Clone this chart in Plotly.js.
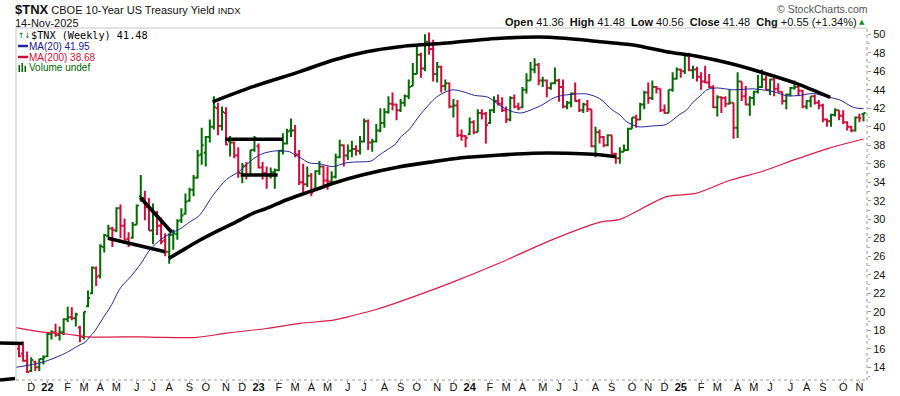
<!DOCTYPE html>
<html>
<head>
<meta charset="utf-8">
<script src="https://cdn.plot.ly/plotly-3.0.1.min.js"></script>
<style>
html,body{margin:0;padding:0;background:#fff;overflow:hidden}
#chart{width:900px;height:396px}
</style>
</head>
<body>
<div id="chart"></div>
<script>
// ---- weekly bars: week 0 = week ending 2021-11-19 ----
const firstWeekUTC = [2021, 10, 19];
const closeBeforeFirst = 15.7;

const opens = [
16.0,15.5,14.7,13.6,14.6,14.0,14.9,15.2,17.6,17.8,
17.5,17.8,19.2,19.4,19.3,18.3,17.3,20.6,22.0,24.7,
23.9,27.0,28.2,29.0,28.8,31.2,29.3,27.9,28.0,29.4,
32.5,32.3,31.3,28.8,30.6,29.3,27.7,26.5,28.3,28.4,
29.9,30.6,32.0,33.2,34.5,37.0,37.2,38.9,40.0,42.0,
40.1,41.5,38.4,38.3,36.9,35.0,35.8,34.8,37.5,37.9,
35.6,35.0,34.8,35.1,35.3,37.4,38.2,39.6,39.6,37.0,
34.0,33.8,34.7,33.3,35.2,35.7,34.2,34.1,34.6,36.7,
38.0,36.9,37.4,37.6,37.4,38.4,40.6,38.3,38.4,39.6,
40.4,41.6,42.5,42.4,41.8,42.6,43.3,44.4,45.7,47.8,
46.3,49.2,48.4,45.7,46.5,44.4,44.7,42.2,42.3,39.1,
39.0,39.2,40.5,39.4,41.5,41.4,40.4,41.8,42.8,42.5,
41.8,40.8,43.1,42.2,42.1,44.0,45.0,46.2,46.7,45.0,
45.0,44.2,44.7,45.0,44.3,42.2,42.6,43.6,42.8,41.8,
42.4,41.9,37.9,39.4,38.9,38.0,39.1,37.1,36.6,37.3,
37.5,39.8,41.0,40.8,42.4,43.7,43.1,44.3,44.1,41.8,
41.5,44.0,45.2,46.2,46.0,47.7,46.1,46.2,45.4,44.9,
44.8,44.3,42.1,43.2,43.1,42.5,42.6,39.9,44.9,43.3,
42.4,43.1,43.8,44.3,45.1,44.0,45.1,44.1,43.8,42.8,
43.5,44.2,44.3,43.9,42.2,42.8,43.3,42.6,42.3,40.8,
40.6,41.3,41.8,41.2,40.5,40.0,39.6,41.0,41.36];

const highs = [
16.7,16.8,15.7,15.1,14.7,14.9,15.3,17.7,18.0,18.7,
18.4,19.3,20.55,20.5,19.9,18.5,20.0,22.3,24.9,24.9,
27.3,28.4,29.4,29.2,31.3,31.6,30.1,28.6,29.7,31.6,
34.8,33.1,32.3,31.7,30.9,30.2,28.5,28.5,28.9,30.0,
31.2,32.8,33.4,34.8,37.5,39.9,39.0,40.8,43.3,42.6,
42.2,42.1,39.0,38.4,37.8,36.1,36.2,37.5,39.0,38.2,
36.2,35.7,35.6,35.5,37.5,39.3,39.8,40.9,40.2,37.5,
36.0,35.7,35.0,35.3,36.3,35.8,35.7,35.2,37.1,38.6,
38.1,38.1,38.5,38.0,39.0,40.9,40.8,38.7,40.3,42.0,
42.0,43.3,43.7,42.5,43.0,43.5,45.1,46.9,48.9,48.0,
50.0,50.2,49.4,47.0,46.6,45.1,44.8,43.0,42.9,39.7,
39.1,41.0,40.7,41.9,41.9,41.6,41.9,43.3,43.5,43.2,
42.2,43.3,43.5,42.6,44.3,45.8,47.0,47.4,46.9,45.4,
45.1,44.8,46.4,45.2,45.1,42.8,43.7,44.8,43.0,42.6,
42.9,41.9,40.0,39.7,39.0,39.2,39.1,37.2,37.8,38.1,
39.9,41.0,41.3,42.6,43.9,44.8,45.0,44.4,44.1,42.4,
44.0,45.9,46.4,46.3,47.9,48.0,46.6,46.5,45.9,46.6,
45.7,44.5,43.4,43.3,43.3,44.0,42.6,45.9,44.9,44.4,
43.3,43.9,45.6,46.2,45.5,45.2,45.3,44.7,43.8,43.6,
44.3,45.0,44.5,44.0,42.9,43.3,43.5,42.9,42.5,40.9,
41.4,42.0,41.8,41.8,40.6,40.1,41.1,41.4,41.48];

const lows = [
15.1,14.6,13.4,13.5,13.6,13.6,14.3,15.1,17.0,17.3,
16.9,17.5,18.9,19.1,18.4,16.7,17.0,20.5,21.9,22.8,
23.6,26.4,28.0,27.0,28.6,27.95,27.8,27.0,27.9,29.4,
31.9,29.9,28.8,27.3,28.3,27.3,26.0,25.2,26.7,27.8,
29.6,30.5,31.9,32.5,34.4,35.9,35.7,38.3,39.7,39.1,
39.6,38.0,36.8,36.6,34.5,33.9,34.3,34.7,37.3,35.5,
34.3,33.3,34.4,33.3,35.2,37.0,38.1,38.9,36.7,33.7,
32.9,33.5,32.5,33.1,34.8,33.7,33.2,33.7,34.4,36.6,
35.7,36.4,36.7,36.9,37.0,38.3,37.5,37.3,38.3,39.4,
39.9,41.4,41.8,40.7,41.6,42.2,43.0,44.4,45.7,45.3,
46.0,47.8,44.9,44.8,43.7,43.9,42.0,41.0,38.9,38.5,
37.8,39.1,39.2,39.4,40.8,38.2,40.3,41.5,42.3,41.6,
40.4,40.6,42.0,41.8,42.0,43.6,45.0,45.8,44.5,44.3,
43.2,44.0,44.6,42.7,42.0,41.9,42.1,42.7,41.6,41.5,
41.6,37.8,36.7,38.2,37.8,37.9,37.0,36.0,36.0,37.3,
37.4,39.8,39.9,40.7,41.9,42.5,42.9,43.6,41.6,41.4,
41.5,43.8,45.1,45.3,45.7,46.0,45.2,44.9,44.0,44.7,
44.2,42.0,41.1,41.5,42.1,42.4,38.7,38.8,42.8,42.3,
41.2,42.3,43.6,44.2,44.0,43.4,43.3,43.7,42.4,41.9,
43.3,44.0,43.3,42.0,41.9,42.1,42.4,41.9,40.5,40.0,
40.0,41.1,40.7,40.3,39.6,39.4,39.5,40.5,40.56];

const closes = [
15.2,14.7,13.5,14.8,14.0,14.9,15.1,17.6,17.8,17.5,
17.8,19.2,19.4,19.3,19.7,17.3,20.0,21.5,24.8,23.8,
27.1,28.3,29.0,28.85,31.2,29.3,27.8,27.4,29.4,31.5,
32.3,31.3,28.8,30.8,29.3,27.6,26.5,28.3,28.5,29.8,
30.4,31.9,33.2,34.5,36.9,38.0,38.9,40.0,42.1,40.1,
41.6,38.1,38.3,36.9,35.0,35.8,34.8,37.5,38.8,35.6,
35.0,34.8,35.1,35.3,37.4,38.2,39.5,39.6,37.0,34.0,
33.8,34.7,32.9,35.2,35.7,34.2,34.1,34.6,36.7,38.0,
36.9,37.4,37.6,37.4,38.4,40.6,38.3,38.4,39.6,40.4,
41.6,42.5,42.4,41.8,42.6,43.3,44.3,45.7,47.8,46.3,
49.2,48.4,45.7,46.5,44.4,44.7,42.2,42.3,39.1,39.0,
38.8,40.5,39.4,41.5,41.4,40.2,41.8,42.8,42.5,41.8,
40.8,43.1,42.2,42.0,44.0,45.0,46.2,46.7,45.0,45.0,
44.2,44.7,45.0,44.3,42.2,42.6,43.6,42.8,41.8,42.4,
41.9,37.9,39.4,38.9,38.0,39.1,37.1,36.6,37.3,37.5,
39.8,41.0,40.8,42.4,43.7,43.1,44.3,44.1,41.8,41.5,
44.0,45.2,46.2,46.0,47.7,46.1,46.2,45.4,44.9,44.8,
44.3,42.1,43.2,43.1,42.5,42.6,39.9,44.9,43.3,42.4,
43.1,43.8,44.3,45.1,44.0,45.1,44.1,43.8,42.8,43.5,
44.2,44.3,43.9,42.2,42.8,43.3,42.6,42.3,40.8,40.6,
41.3,41.8,41.2,40.5,40.0,39.6,41.0,40.93,41.48];

// ---- moving averages (week index, value) ----
const ma20Week = [-0.8,5.8,11.3,15.1,16.3,17.6,18.3,20.1,20.8,22.6,25,27.5,30,32.4,34.9,37.4,39.8,42,44.4,47.8,51.1,54.3,57.6,60,63.3,66.6,68.2,69.2,71.5,74,77.3,80.5,83,86.7,88.9,92.9,93.8,96.1,98.8,102.8,105.2,106.9,109.3,112.2,115.5,118.8,121.8,123.8,126.5,129,131.6,134,139.8,143,146.2,148,149.5,152.5,156.1,159.4,162.6,164.4,165.9,168.2,169.4,171.8,175.9,180.8,185.8,189.1,192.4,195.6,198.9,202.2,205.5,208];
const ma20Val  = [14.0,14.55,15.5,16.45,16.7,17.4,17.7,18.9,19.4,20.6,22.6,23.8,25.2,26.8,27.8,28.5,29.0,29.7,30.4,32.6,34.3,35.2,36.5,37.1,37.4,37.3,36.9,36.7,36.1,36.0,35.7,36.1,36.2,36.3,37.0,38.2,38.8,39.7,41.3,43.2,43.8,44.0,43.8,43.4,43.2,42.2,41.6,41.5,41.9,42.4,43.1,43.4,43.55,43.05,41.8,41.3,40.6,40.0,40.1,40.25,41.3,41.8,42.6,43.5,44.0,44.2,44.0,44.1,43.8,43.35,43.4,43.6,43.25,42.9,42.1,41.95];

const ma200Week = [-0.8,6,11.7,16.7,29.8,34.7,43.8,51.2,61,69.2,77.4,82.3,88,93.8,106.2,118.5,130.8,143.1,148,159.5,166.7,175,183.2,191.4,199.6,208];
const ma200Val  = [18.3,17.8,17.6,17.3,17.3,17.24,17.24,17.7,18.2,18.75,19.1,19.6,20.25,21.1,23.1,25.3,27.7,29.7,30.0,32.45,32.8,34.2,35.2,36.5,37.7,38.68];

// ---- hand-drawn trendlines (week index, value) ----
const upperArcWeek = [47.7,57.6,69.2,77.3,85.6,93.8,106.2,118.5,130.8,143.1,151.3,159.5,166.7,175.0,183.2,191.4,199.8];
const upperArcVal  = [42.7,44.34,45.96,47.2,48.12,48.66,49.09,49.57,49.68,49.2,48.84,48.12,47.65,46.86,45.85,44.7,43.19];
const lowerArcWeek = [36.9,41.1,44.6,49.3,52.8,57.6,61.0,65.8,69.2,74.0,77.4,84.5,93.8,102.0,110.3,118.5,126.6,134.9,141.3,147.0];
const lowerArcVal  = [25.78,26.86,27.76,28.84,29.57,30.65,31.19,32.09,32.63,33.35,33.9,34.79,35.69,36.23,36.7,36.95,37.14,37.14,37.03,36.77];
const segAWeek = [21.9,36.0], segAVal = [27.95,26.5];
const segBWeek = [29.9,37.6], segBVal = [32.36,28.6];
const hTopWeek = [50.8,64.95], hTopVal = [38.65,38.65];
const hBotWeek = [54.6,63.7],  hBotVal = [34.79,34.79];

// ---- axis labels ----
const monthTickDates = ['2021-12-10','2022-01-07','2022-02-11','2022-03-11','2022-04-08','2022-05-06','2022-06-10','2022-07-08','2022-08-05','2022-09-09','2022-10-07','2022-11-11','2022-12-09','2023-01-06','2023-02-10','2023-03-10','2023-04-07','2023-05-05','2023-06-09','2023-07-07','2023-08-11','2023-09-08','2023-10-06','2023-11-10','2023-12-08','2024-01-05','2024-02-09','2024-03-08','2024-04-05','2024-05-10','2024-06-07','2024-07-05','2024-08-09','2024-09-06','2024-10-11','2024-11-08','2024-12-06','2025-01-03','2025-02-07','2025-03-07','2025-04-11','2025-05-09','2025-06-06','2025-07-11','2025-08-08','2025-09-05','2025-10-10','2025-11-07'];
const monthTickText = ['D','<b>22</b>','F','M','A','M','J','J','A','S','O','N','D','<b>23</b>','F','M','A','M','J','J','A','S','O','N','D','<b>24</b>','F','M','A','M','J','J','A','S','O','N','D','<b>25</b>','F','M','A','M','J','J','A','S','O','N'];
const yTickVals = [14,16,18,20,22,24,26,28,30,32,34,36,38,40,42,44,46,48,50];

// ---- helpers ----
const START_MS = Date.UTC(firstWeekUTC[0], firstWeekUTC[1], firstWeekUTC[2]);
function weekDate(k){
  const d = new Date(START_MS + k*7*86400000);
  const p = n => String(n).padStart(2,'0');
  return d.getUTCFullYear()+'-'+p(d.getUTCMonth()+1)+'-'+p(d.getUTCDate())+' '+p(d.getUTCHours())+':'+p(d.getUTCMinutes())+':'+p(d.getUTCSeconds());
}
const PL=16, PR=867, PT=28, PB=380;
const px = x => (x-PL)/(PR-PL);
const py = y => (PB-y)/(PB-PT);

const GREEN='#006b00', RED='#d10a3c', MA20C='#23239b', MA200C='#dc1a46';

const greenIdx=[], redIdx=[];
closes.forEach((c,i)=>{ const prev = i===0 ? closeBeforeFirst : closes[i-1]; (c>=prev?greenIdx:redIdx).push(i); });
function ohlcTrace(idx,color){
  return {type:'ohlc', x: idx.map(i=>weekDate(i)), open: idx.map(i=>opens[i]), high: idx.map(i=>highs[i]),
    low: idx.map(i=>lows[i]), close: idx.map(i=>closes[i]), tickwidth:0.5,
    increasing:{line:{color:color,width:2}}, decreasing:{line:{color:color,width:2}}, hoverinfo:'skip'};
}
function lineTrace(wk, val, color, width, shape){
  return {type:'scatter', mode:'lines', x: wk.map(weekDate), y: val, line:{color:color, width:width, shape:shape||'linear', smoothing:0.8}, hoverinfo:'skip'};
}

const traces = [
  ohlcTrace(greenIdx, GREEN),
  ohlcTrace(redIdx, RED),
  lineTrace(ma200Week, ma200Val, MA200C, 1.2, 'spline'),
  lineTrace(ma20Week, ma20Val, MA20C, 1, 'spline'),
  lineTrace(upperArcWeek, upperArcVal, '#000', 3.6, 'spline'),
  lineTrace(lowerArcWeek, lowerArcVal, '#000', 3.6, 'spline'),
  lineTrace(segAWeek, segAVal, '#000', 3.6),
  lineTrace(segBWeek, segBVal, '#000', 3.6),
  lineTrace(hTopWeek, hTopVal, '#000', 3.6),
  lineTrace(hBotWeek, hBotVal, '#000', 3.6)
];

const FONT='Liberation Sans, Arial, sans-serif';
function ann(x,y,text,opt){
  return Object.assign({xref:'paper', yref:'paper', x:px(x), y:py(y), text:text, showarrow:false,
    xanchor:'left', yanchor:'middle', borderpad:0, borderwidth:0,
    font:{family:FONT, size:11, color:'#000'}}, opt||{});
}
const NB='\u00A0';
const annotations = [
  ann(15, 9, '<span style="font-size:13px;font-weight:bold">$TNX</span> CBOE 10-Year US Treasury Yield <span style="font-size:9.5px">INDX</span>', {font:{family:FONT,size:11,color:'#111'}}),
  ann(15, 22.5, '14-Nov-2025', {font:{family:FONT,size:11,color:'#111'}}),
  ann(868, 9, '© StockCharts.com', {xanchor:'right', font:{family:FONT,size:10.5,color:'#555'}}),
  ann(857, 22, '<b>Open</b> 41.36'+NB+NB+'<b>High</b> 41.48'+NB+NB+'<b>Low</b> 40.56'+NB+NB+'<b>Close</b> 41.48'+NB+NB+'<b>Chg</b> +0.55 (+1.34%)', {xanchor:'right', font:{family:FONT,size:11,color:'#111'}}),
  ann(859, 22, '▲', {font:{family:'DejaVu Sans',size:7,color:'#1a8a1a'}}),
  ann(17.5, 35, '↑↓', {font:{family:'DejaVu Sans',size:7.5,color:GREEN}}),
  ann(31, 35, '$TNX (Weekly) 41.48', {font:{family:'DejaVu Sans Mono',size:10.2,color:'#000'}}),
  ann(28.5, 46, 'MA(20) 41.95', {font:{family:FONT,size:10,color:'#1a1a8f'}}),
  ann(28.5, 57, 'MA(200) 38.68', {font:{family:FONT,size:10,color:'#d0103a'}}),
  ann(28.5, 67.5, 'Volume undef', {font:{family:FONT,size:10,color:'#006400'}})
];

const edgeStubsPx = [[0,343,23,343.5],[0,380,15,378.5]];
const shapes = [
  {type:'line', xref:'paper', yref:'paper', x0:0, x1:1, y0:1, y1:1, line:{color:'#c4c4c4', width:1}},
  {type:'line', xref:'paper', yref:'paper', x0:0, x1:0, y0:0, y1:1, line:{color:'#c4c4c4', width:1}},
  {type:'line', xref:'paper', yref:'paper', x0:1, x1:1, y0:0, y1:1, line:{color:'#9a9a9a', width:1, dash:'dot'}},
  {type:'line', xref:'paper', yref:'paper', x0:0, x1:1, y0:0, y1:0, line:{color:'#9a9a9a', width:1, dash:'dot'}},
  // legend icons
  {type:'line', xref:'paper', yref:'paper', x0:px(18), x1:px(28), y0:py(46), y1:py(46), line:{color:MA20C, width:2.5}},
  {type:'line', xref:'paper', yref:'paper', x0:px(18), x1:px(28), y0:py(57), y1:py(57), line:{color:RED, width:2.5}},
  {type:'rect', xref:'paper', yref:'paper', x0:px(18.5), x1:px(20), y0:py(72), y1:py(65), fillcolor:'#006400', line:{width:0}},
  {type:'rect', xref:'paper', yref:'paper', x0:px(21.5), x1:px(23), y0:py(72), y1:py(63), fillcolor:'#006400', line:{width:0}},
  {type:'rect', xref:'paper', yref:'paper', x0:px(24.5), x1:px(26), y0:py(72), y1:py(66), fillcolor:'#006400', line:{width:0}}
];
edgeStubsPx.forEach(s=>shapes.push({type:'line', xref:'paper', yref:'paper', x0:px(s[0]), y0:py(s[1]), x1:px(s[2]), y1:py(s[3]), line:{color:'#000', width:3.6}}));

const layout = {
  width:900, height:396,
  margin:{l:PL, r:900-PR, t:PT, b:396-PB, pad:0},
  paper_bgcolor:'#fff', plot_bgcolor:'#fff',
  showlegend:false,
  font:{family:FONT, size:11, color:'#111'},
  xaxis:{type:'date', range:['2021-11-13 20:00:00','2025-11-20 02:00:00'], showgrid:false, zeroline:false, showline:false,
    tickmode:'array', tickvals:monthTickDates, ticktext:monthTickText, ticks:'outside', ticklen:2, tickcolor:'#999',
    ticklabelstandoff:-5,
    tickfont:{family:FONT, size:11, color:'#111'}, rangeslider:{visible:false}, fixedrange:true},
  yaxis:{side:'right', range:[12.63,50.68], showgrid:false, zeroline:false, showline:false,
    tickmode:'array', tickvals:yTickVals, ticktext:yTickVals.map(String), ticks:'outside', ticklen:3, tickcolor:'#999',
    minor:{tickmode:'linear', tick0:0, dtick:1, ticks:'outside', ticklen:2, tickcolor:'#aaa'},
    tickfont:{family:FONT, size:11, color:'#111'}, fixedrange:true},
  shapes:shapes,
  annotations:annotations
};

Plotly.newPlot('chart', traces, layout, {staticPlot:true, displayModeBar:false});
</script>
</body>
</html>
